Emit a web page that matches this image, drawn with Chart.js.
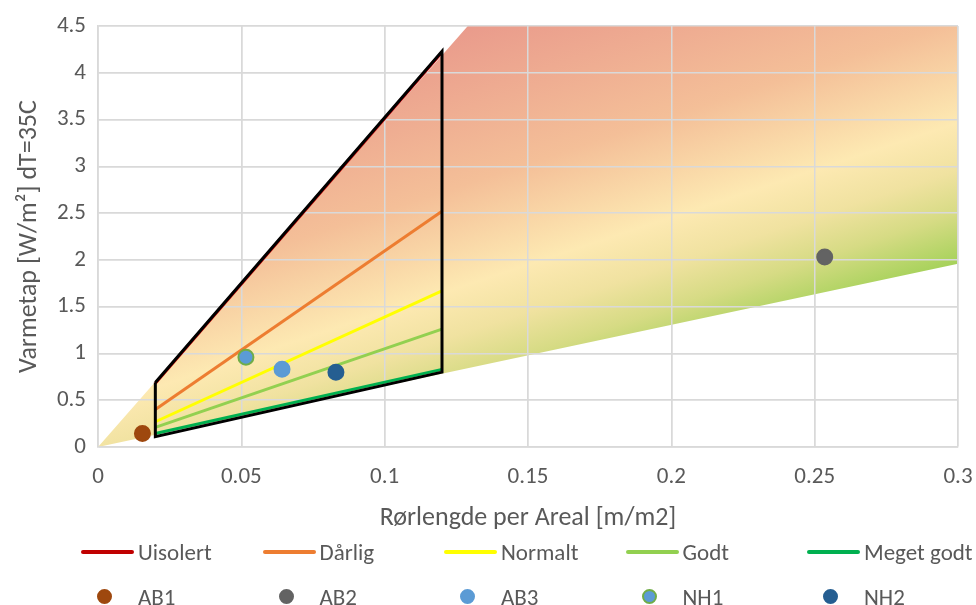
<!DOCTYPE html>
<html>
<head>
<meta charset="utf-8">
<script src="https://cdn.jsdelivr.net/npm/chart.js@4/dist/chart.umd.min.js"></script>
<style>
  html, body { margin: 0; padding: 0; background: #fff; }
  #wrap { position: relative; width: 976px; height: 605px; overflow: hidden; }
  #c { position: absolute; left: 0; top: 0; }
  #legend { position: absolute; left: 81px; top: 529px; width: 900px;
            font-family: Carlito, Lato, "Noto Sans", sans-serif; font-size: 23px; color: #595959; }
  .row { display: flex; height: 45px; align-items: center; }
  .item { width: 181.5px; display: flex; align-items: center; flex: none; }
  .sw { width: 53px; height: 20px; position: relative; flex: none; }
  .sw .ln { position: absolute; left: 0; right: 0; top: 8px; height: 4px; border-radius: 2px; }
  .sw .mk { position: absolute; left: 16px; top: 2px; width: 15px; height: 15px; border-radius: 50%; box-sizing: border-box; }
  .tx { margin-left: 4px; white-space: nowrap; }
</style>
</head>
<body>
<div id="wrap">
  <canvas id="c" width="976" height="605"></canvas>
  <div id="legend"></div>
</div>
<script>
// ---------- DATA ----------
const classNames  = ['Uisolert', 'Dårlig', 'Normalt', 'Godt', 'Meget godt'];
const classX      = [0.02, 0.12];
const uisolertY   = [0.68, 4.22];
const darligY     = [0.40, 2.52];
const normaltY    = [0.27, 1.67];
const godtY       = [0.21, 1.26];
const megetGodtY  = [0.145, 0.83];

const outlineX    = [0.02, 0.12, 0.12, 0.02, 0.02];
const outlineY    = [0.69, 4.23, 0.80, 0.11, 0.69];

const zoneX       = [0, 0.129, 0.3, 0.3, 0];
const zoneY       = [0, 4.5, 4.5, 1.96, 0];

const siteNames   = ['AB1', 'AB2', 'AB3', 'NH1', 'NH2'];
const siteX       = [0.0155, 0.2535, 0.0642, 0.0516, 0.083];
const siteY       = [0.145, 2.03, 0.83, 0.96, 0.80];

const xTickValues = [0, 0.05, 0.1, 0.15, 0.2, 0.25, 0.3];
const yTickValues = [0, 0.5, 1, 1.5, 2, 2.5, 3, 3.5, 4, 4.5];

// ---------- STYLE ----------
const FONT = 'Carlito, Lato, "Noto Sans", sans-serif';
const TXT = '#595959';
const GRID = '#d9d9d9';
const classColors = ['#C00000', '#ED7D31', '#FFFF00', '#92D050', '#00B050'];
const siteFill   = ['#9E480E', '#636363', '#5B9BD5', '#5B9BD5', '#255E91'];
const siteBorder = ['#9E480E', '#636363', '#5B9BD5', '#70AD47', '#255E91'];

const pts = (xs, ys) => xs.map((x, i) => ({ x: x, y: ys[i] }));

function zoneGradient(context) {
  const chart = context.chart;
  const a = chart.chartArea;
  if (!a) return 'rgba(0,0,0,0)';
  const w = a.right - a.left, h = a.bottom - a.top;
  const g = chart.ctx.createLinearGradient(
    a.left - 0.0593 * w, a.top + 0.280 * h,
    a.left + 0.0895 * w, a.top + 1.201 * h);
  g.addColorStop(0.00, '#E8968A');
  g.addColorStop(0.415, '#F4BF98');
  g.addColorStop(0.65, '#FDE9B2');
  g.addColorStop(0.76, '#F0E2A0');
  g.addColorStop(0.86, '#D6DB84');
  g.addColorStop(1.00, '#9CD052');
  return g;
}

const classSeries = [uisolertY, darligY, normaltY, godtY, megetGodtY];

const datasets = [];
datasets.push({
  label: 'zone', legendKind: 'none', data: pts(zoneX, zoneY), showLine: true,
  fill: 'shape', backgroundColor: zoneGradient, borderWidth: 0, borderColor: 'rgba(0,0,0,0)',
  pointRadius: 0, order: 10, tension: 0
});
classNames.forEach((n, i) => datasets.push({
  label: n, legendKind: 'line', data: pts(classX, classSeries[i]), showLine: true,
  borderColor: classColors[i], backgroundColor: classColors[i], borderWidth: 3,
  pointRadius: 0, fill: false, order: 4
}));
datasets.push({
  label: 'outline', legendKind: 'none', data: pts(outlineX, outlineY), showLine: true,
  borderColor: '#000000', borderWidth: 3, pointRadius: 0, fill: false, order: 2,
  borderJoinStyle: 'miter'
});
siteNames.forEach((n, i) => datasets.push({
  label: n, legendKind: 'point', data: [{ x: siteX[i], y: siteY[i] }], showLine: false,
  backgroundColor: siteFill[i], borderColor: siteBorder[i], borderWidth: 2,
  pointRadius: 7.5, pointHoverRadius: 7.5, order: 1
}));

const gridOverZone = {
  id: 'gridOverZone',
  afterDatasetDraw(chart, args) {
    if (args.index === 0) {
      chart.scales.x.drawGrid(chart.chartArea);
      chart.scales.y.drawGrid(chart.chartArea);
    }
  }
};

const htmlLegend = {
  id: 'htmlLegend',
  afterUpdate(chart) {
    const box = document.getElementById('legend');
    box.innerHTML = '';
    ['line', 'point'].forEach(kind => {
      const row = document.createElement('div');
      row.className = 'row';
      chart.data.datasets.forEach(ds => {
        if (ds.legendKind !== kind) return;
        const it = document.createElement('div'); it.className = 'item';
        const sw = document.createElement('div'); sw.className = 'sw';
        const m = document.createElement('div');
        if (kind === 'line') { m.className = 'ln'; m.style.background = ds.borderColor; }
        else { m.className = 'mk'; m.style.background = ds.backgroundColor; m.style.border = '2px solid ' + ds.borderColor; }
        sw.appendChild(m);
        const tx = document.createElement('span'); tx.className = 'tx'; tx.textContent = ds.label;
        it.appendChild(sw); it.appendChild(tx); row.appendChild(it);
      });
      box.appendChild(row);
    });
  }
};

new Chart(document.getElementById('c'), {
  type: 'scatter',
  data: { datasets: datasets },
  plugins: [gridOverZone, htmlLegend],
  options: {
    responsive: false, animation: false,
    layout: { padding: { left: 5, right: 18, top: 26, bottom: 71 } },
    plugins: { legend: { display: false }, tooltip: { enabled: false } },
    scales: {
      x: {
        type: 'linear', min: 0, max: 0.3,
        afterBuildTicks: s => { s.ticks = xTickValues.map(v => ({ value: v })); },
        afterFit: s => { s.height = 87; s.paddingRight = 0; s.paddingLeft = 0; },
        ticks: { color: TXT, font: { family: FONT, size: 23 }, padding: 16, maxRotation: 0,
                 callback: v => String(+Number(v).toFixed(2)) },
        grid: { color: GRID, lineWidth: 1.5, drawTicks: false },
        border: { color: GRID, width: 1.5 },
        title: { display: true, text: 'Rørlengde per Areal [m/m2]', color: TXT,
                 font: { family: FONT, size: 26 }, padding: { top: 8, bottom: 0 } }
      },
      y: {
        type: 'linear', min: 0, max: 4.5,
        afterBuildTicks: s => { s.ticks = yTickValues.map(v => ({ value: v })); },
        afterFit: s => { s.width = 93; },
        ticks: { color: TXT, font: { family: FONT, size: 23 }, padding: 12,
                 callback: v => String(+Number(v).toFixed(2)) },
        grid: { color: GRID, lineWidth: 1.5, drawTicks: false },
        border: { color: GRID, width: 1.5 },
        title: { display: true, text: 'Varmetap [W/m²] dT=35C', color: TXT,
                 font: { family: FONT, size: 26 }, padding: { top: 9, bottom: 0 } }
      }
    }
  }
});
</script>
</body>
</html>
